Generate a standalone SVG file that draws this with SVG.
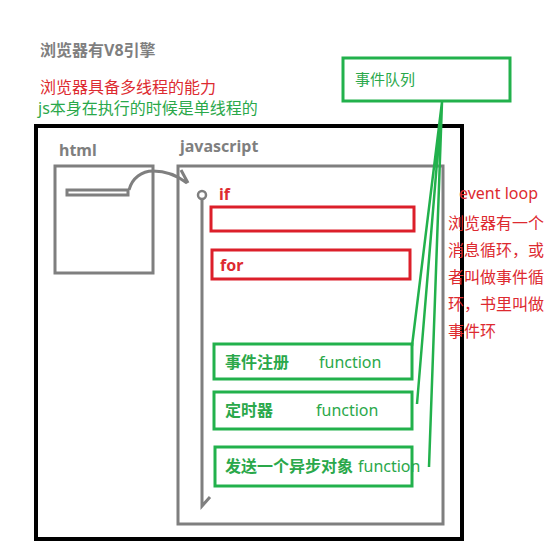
<svg xmlns="http://www.w3.org/2000/svg" width="558" height="559" viewBox="0 0 558 559">
<style>
text{font-family:"Noto Sans","Noto Sans CJK SC",sans-serif;font-size:16px}
.b{font-weight:bold}
.gray{fill:#7f7f7f}
.red{fill:#dd2a30}
.grn{fill:#2aa84a}
.gbox{fill:none;stroke:#22b14c;stroke-width:3}
.rbox{fill:none;stroke:#dc1f2a;stroke-width:3}
.gr{fill:none;stroke:#7f7f7f;stroke-width:3}
.gl{fill:none;stroke:#22b14c;stroke-width:2.5}
</style>
<rect width="558" height="559" fill="#fff"/>
<g id="notes">
<text class="gray b" x="40" y="56">浏览器有V8引擎</text>
<text class="red" x="40" y="93">浏览器具备多线程的能力</text>
<text class="grn" x="38" y="114">js本身在执行的时候是单线程的</text>
</g>
<g id="browser">
<rect x="36" y="126" width="426" height="413" fill="none" stroke="#000" stroke-width="4"/>
</g>
<g id="html">
<text class="gray b" x="59" y="156">html</text>
<rect class="gr" x="55" y="166" width="98" height="107"/>
<rect class="gr" x="67" y="190" width="61" height="5"/>
</g>
<g id="javascript">
<text class="gray b" x="180" y="152">javascript</text>
<rect class="gr" x="178" y="166" width="265" height="358"/>
<circle cx="202" cy="195" r="4" fill="#fff" stroke="#7f7f7f" stroke-width="2.5"/>
<path class="gr" d="M202,199 V506 L210,497"/>
</g>
<g id="if">
<text class="red b" x="219" y="200">if</text>
<rect class="rbox" x="211" y="207" width="203" height="24"/>
</g>
<g id="for">
<rect class="rbox" x="212" y="250" width="198" height="29"/>
<text class="red b" x="220" y="271">for</text>
</g>
<g id="event-register">
<rect class="gbox" x="214" y="344" width="198" height="35"/>
<text class="grn b" x="225" y="368">事件注册</text>
<text class="grn" x="319" y="368">function</text>
</g>
<g id="timer">
<rect class="gbox" x="214" y="392" width="198" height="37"/>
<text class="grn b" x="225" y="416">定时器</text>
<text class="grn" x="316" y="416">function</text>
</g>
<g id="async">
<rect class="gbox" x="215" y="447" width="197" height="39"/>
<text class="grn b" x="225" y="472">发送一个异步对象</text>
<text class="grn" x="358" y="472">function</text>
</g>
<g id="event-queue">
<rect class="gbox" x="343" y="58" width="167" height="43"/>
<text class="grn" x="355" y="85" style="font-size:15px">事件队列</text>
</g>
<g id="event-loop-note">
<text class="red" x="459" y="199">event loop</text>
<text class="red" x="448" y="229">浏览器有一个</text>
<text class="red" x="448" y="256">消息循环，或</text>
<text class="red" x="448" y="283">者叫做事件循</text>
<text class="red" x="448" y="310">环，书里叫做</text>
<text class="red" x="448" y="337">事件环</text>
</g>
<g id="connectors">
<path class="gr" d="M129,190 C132,178 142,171 153,171 C166,171 178,176 187,183 M181,170 L188,183"/>
<path class="gl" d="M442,102 L412,346 M442,102 L417,404 M442,102 L429,467"/>
</g>
</svg>
